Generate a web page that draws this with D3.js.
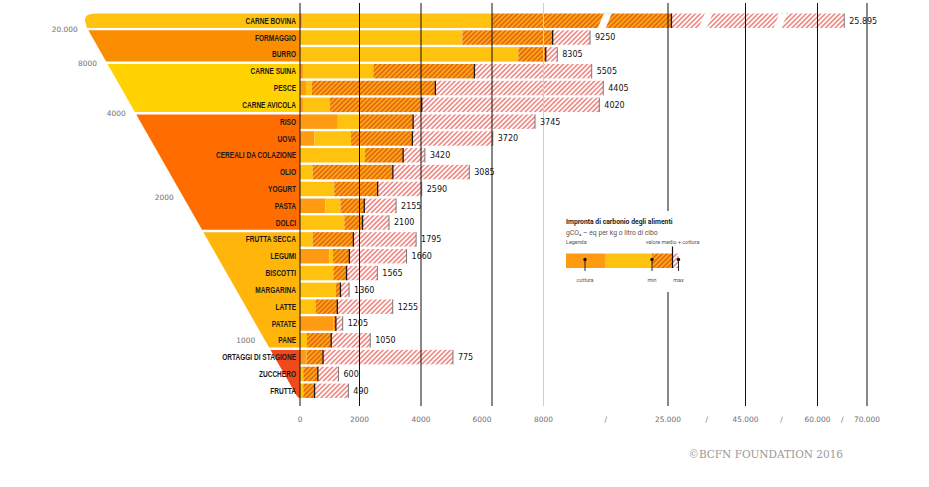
<!DOCTYPE html>
<html><head><meta charset="utf-8">
<script src="https://cdn.jsdelivr.net/npm/d3@7"></script>
<style>html,body{margin:0;padding:0;background:#fff;} svg{display:block}</style>
</head><body>
<svg id="chart" width="929" height="487"></svg>
<script>
// ---------- DATA ----------
const categories = ["CARNE BOVINA","FORMAGGIO","BURRO","CARNE SUINA","PESCE","CARNE AVICOLA","RISO","UOVA","CEREALI DA COLAZIONE","OLIO","YOGURT","PASTA","DOLCI","FRUTTA SECCA","LEGUMI","BISCOTTI","MARGARINA","LATTE","PATATE","PANE","ORTAGGI DI STAGIONE","ZUCCHERO","FRUTTA"];
const cotturaValues = [90, 0, 0, 100, 200, 100, 1270, 480, 0, 0, 0, 850, 0, 0, 990, 0, 0, 0, 1110, 0, 200, 0, 0];
const minValues     = [6000, 5165, 7020, 2450, 400, 1010, 2015, 1715, 2180, 425, 1150, 1360, 1490, 425, 1110, 1120, 1210, 520, 1140, 235, 220, 110, 110];
const medioValues   = [25895, 9250, 8305, 5505, 4405, 4020, 3745, 3720, 3420, 3085, 2590, 2155, 2100, 1795, 1660, 1565, 1360, 1255, 1205, 1050, 775, 600, 490];
const maxValues     = [65400, 14350, 9880, 14580, 16160, 15620, 7670, 6030, 4110, 5360, 4020, 3190, 2960, 3840, 3530, 2580, 1650, 3080, 1435, 2350, 4900, 1295, 1625];
const tickValues = [0, 2000, 4000, 6000, 8000, 25000, 45000, 60000, 70000];
const tickLabels = ["0", "2000", "4000", "6000", "8000", "25.000", "45.000", "60.000", "70.000"];
const bandThresholds = [20000, 8000, 4000, 2000, 1000];
const bandLabels = ["20.000", "8000", "4000", "2000", "1000"];
const legendTexts = ["Impronta di carbonio degli alimenti", "gCO\u2082 \u2013 eq per kg o litro di cibo", "Legenda", "valore medio + cottura", "cottura", "min", "max"];
const credit = "\u00A9BCFN FOUNDATION 2016";

// ---------- SETUP ----------
const svg = d3.select("#chart");
const x = d3.scaleLinear().domain(tickValues).range([300, 359.5, 421, 492, 543.5, 668, 745.5, 817.5, 867]);
const y = d3.scaleBand().domain(categories).range([13.5, 398]).paddingInner(0.14);
const bw = y.bandwidth();
const step = y.step();

const C = {
  cottura: "#FF9B12", yellow: "#FFC20E", orange: "#FFA70F",
  bands: ["#FFC20E", "#FA8E00", "#FFD200", "#FF6C00", "#FFB50A", "#EE4A1B"]
};

const defs = svg.append("defs");
function hatch(id, bg, fg, sw, w) {
  const p = defs.append("pattern").attr("id", id).attr("patternUnits", "userSpaceOnUse")
    .attr("width", w).attr("height", w).attr("patternTransform", "rotate(45)");
  p.append("rect").attr("width", w).attr("height", w).attr("fill", bg);
  p.append("line").attr("x1", w / 2).attr("x2", w / 2).attr("y1", -1).attr("y2", w + 1)
    .attr("stroke", fg).attr("stroke-width", sw);
}
hatch("hOr", C.orange, "#CC3A1C", 0.95, 3.4);
hatch("hRd", "#ffffff", "#E8473F", 1.05, 3.4);

const bandOf = v => { const i = bandThresholds.findIndex(t => v > t); return i < 0 ? bandThresholds.length : i; };
const edge = yy => 79 + (yy - 14) * 0.57;

// ---------- FUNNEL ----------
const gF = svg.append("g");
const nb = bandThresholds.length + 1;
for (let b = 0; b < nb; b++) {
  const idx = categories.map((c, i) => i).filter(i => bandOf(medioValues[i]) === b);
  if (!idx.length) continue;
  const yT = y(categories[idx[0]]), yB = y(categories[idx[idx.length - 1]]) + bw;
  let d;
  if (b === 0) {
    const eB = edge(yB);
    d = `M${x(0)},${yT} L${eB + 9},${yT} Q${eB - 3},${yT} ${eB - 2},${(yT + yB) / 2} L${eB},${yB} L${x(0)},${yB} Z`;
  } else if (b === nb - 1) {
    d = `M${edge(yT)},${yT} L${x(0)},${yT} L${x(0)},${yB} Q${x(0) - 1},${yB + 0.5} ${edge(yB) - 1},${yB - 2} Z`;
  } else {
    d = `M${edge(yT)},${yT} L${x(0)},${yT} L${x(0)},${yB} L${edge(yB)},${yB} Z`;
  }
  gF.append("path").attr("d", d).attr("fill", C.bands[b]);
}
const bandLabelRow = [1, 3, 6, 11, 19.5];
bandLabels.forEach((t, i) => {
  const yy = 13.5 + bandLabelRow[i] * step - 1;
  svg.append("text").attr("x", edge(yy) - 10).attr("y", yy).attr("dy", "0.35em")
    .attr("text-anchor", "end").attr("font-family", "DejaVu Sans")
    .attr("font-size", 7.4).attr("fill", "#707070").text(t);
});

// ---------- BARS ----------
const gB = svg.append("g");
categories.forEach((c, i) => {
  const yy = y(c);
  const x0 = x(0), xc = x(cotturaValues[i]), xm = x(minValues[i]), xd = x(medioValues[i]), xM = x(maxValues[i]);
  if (xc > x0) gB.append("rect").attr("x", x0).attr("y", yy).attr("width", xc - x0).attr("height", bw).attr("fill", C.cottura);
  if (xm > xc) gB.append("rect").attr("x", xc).attr("y", yy).attr("width", xm - xc).attr("height", bw).attr("fill", C.yellow);
  gB.append("rect").attr("x", xm).attr("y", yy).attr("width", xd - xm).attr("height", bw).attr("fill", "url(#hOr)");
  gB.append("rect").attr("x", xd).attr("y", yy).attr("width", xM - xd).attr("height", bw).attr("fill", "url(#hRd)");
  // axis breaks on long bars
  for (let k = 4; k < tickValues.length - 1; k++) {
    const m = (x(tickValues[k]) + x(tickValues[k + 1])) / 2;
    if (xM - m > 6 && m > xm) {
      gB.append("path").attr("d", `M${m - 8},${yy + bw} L${m},${yy + bw} L${m + 6},${yy} L${m - 2},${yy} Z`).attr("fill", "#fff");
    }
  }
  gB.append("line").attr("x1", xM).attr("x2", xM).attr("y1", yy).attr("y2", yy + bw).attr("stroke", "#777").attr("stroke-width", 1);
  gB.append("line").attr("x1", xd).attr("x2", xd).attr("y1", yy).attr("y2", yy + bw).attr("stroke", "#1a1a1a").attr("stroke-width", 1.3);
});

// ---------- GRID ----------
const gG = svg.append("g");
tickValues.forEach((v, i) => {
  gG.append("line").attr("x1", x(v)).attr("x2", x(v)).attr("y1", 3).attr("y2", 406)
    .attr("stroke", v === 8000 ? "#cfcfcf" : "#111").attr("stroke-width", 1);
});

// ---------- VALUE LABELS ----------
const fmt = v => v >= 10000 ? d3.format(",")(v).replace(/,/g, ".") : String(v);
categories.forEach((c, i) => {
  svg.append("text").attr("x", x(maxValues[i]) + 5).attr("y", y(c) + bw / 2).attr("dy", "0.36em")
    .attr("font-family", "DejaVu Sans").attr("font-size", 8).attr("fill", "#111").text(fmt(medioValues[i]));
});

// ---------- ROW LABELS ----------
categories.forEach((c) => {
  svg.append("text").attr("transform", `translate(296,${y(c) + bw / 2}) scale(0.77,1)`)
    .attr("dy", "0.36em").attr("text-anchor", "end")
    .attr("font-family", "Liberation Sans").attr("font-weight", "bold").attr("font-size", 8.5)
    .attr("fill", "#1a1a1a").text(c);
});

// ---------- AXIS LABELS ----------
tickValues.forEach((v, i) => {
  svg.append("text").attr("x", x(v) + (v === 6000 ? -10 : 0)).attr("y", 419).attr("dy", "0.35em")
    .attr("text-anchor", "middle").attr("font-family", "DejaVu Sans")
    .attr("font-size", 7.4).attr("fill", "#707070").text(tickLabels[i]);
});
for (let k = 4; k < tickValues.length - 1; k++) {
  const m = (x(tickValues[k]) + x(tickValues[k + 1])) / 2;
  svg.append("text").attr("x", m).attr("y", 419).attr("dy", "0.35em").attr("text-anchor", "middle")
    .attr("font-family", "DejaVu Sans").attr("font-size", 7.4).attr("fill", "#707070").text("/");
}

// ---------- LEGEND ----------
const gL = svg.append("g");
gL.append("rect").attr("x", 558).attr("y", 211).attr("width", 150).attr("height", 81).attr("fill", "#fff");
gL.append("text").attr("x", 566).attr("y", 221.5).attr("dy", "0.35em").attr("font-family", "Roboto")
  .attr("font-weight", "bold").attr("font-size", 6.8).attr("fill", "#222").text(legendTexts[0]);
gL.append("text").attr("x", 566).attr("y", 232.5).attr("dy", "0.35em").attr("font-family", "Roboto")
  .attr("font-size", 6.8).attr("fill", "#555").text(legendTexts[1]);
gL.append("text").attr("x", 566).attr("y", 242.5).attr("dy", "0.35em").attr("font-family", "Roboto")
  .attr("font-size", 5.4).attr("fill", "#555").text(legendTexts[2]);
gL.append("text").attr("x", 672.5).attr("y", 242.5).attr("dy", "0.35em").attr("text-anchor", "middle").attr("font-family", "Roboto")
  .attr("font-size", 5.4).attr("fill", "#555").text(legendTexts[3]);
const lb = { y: 253.5, h: 14.5, x0: 566, xc: 605, xm: 652, xd: 672.5, xM: 678.5 };
gL.append("rect").attr("x", lb.x0).attr("y", lb.y).attr("width", lb.xc - lb.x0).attr("height", lb.h).attr("fill", C.cottura);
gL.append("rect").attr("x", lb.xc).attr("y", lb.y).attr("width", lb.xm - lb.xc).attr("height", lb.h).attr("fill", C.yellow);
gL.append("rect").attr("x", lb.xm).attr("y", lb.y).attr("width", lb.xd - lb.xm).attr("height", lb.h).attr("fill", "url(#hOr)");
gL.append("rect").attr("x", lb.xd).attr("y", lb.y).attr("width", lb.xM - lb.xd).attr("height", lb.h).attr("fill", "url(#hRd)");
gL.append("line").attr("x1", lb.xd).attr("x2", lb.xd).attr("y1", 246.5).attr("y2", lb.y + lb.h).attr("stroke", "#111").attr("stroke-width", 1.2);
[[lb.xc - 20, legendTexts[4]], [lb.xm, legendTexts[5]], [lb.xM, legendTexts[6]]].forEach(([px, t]) => {
  gL.append("line").attr("x1", px).attr("x2", px).attr("y1", 259.5).attr("y2", 271).attr("stroke", "#111").attr("stroke-width", 0.9);
  gL.append("circle").attr("cx", px).attr("cy", 259.5).attr("r", 1.7).attr("fill", "#111");
  gL.append("text").attr("x", px).attr("y", 280.5).attr("dy", "0.35em").attr("text-anchor", "middle")
    .attr("font-family", "Roboto").attr("font-size", 5.4).attr("fill", "#555").text(t);
});

// ---------- CREDIT ----------
svg.append("text").attr("x", 843).attr("y", 454).attr("dy", "0.35em").attr("text-anchor", "end")
  .attr("font-family", "DejaVu Serif").attr("font-size", 10.5).attr("fill", "#999").text(credit);
</script>
</body></html>
